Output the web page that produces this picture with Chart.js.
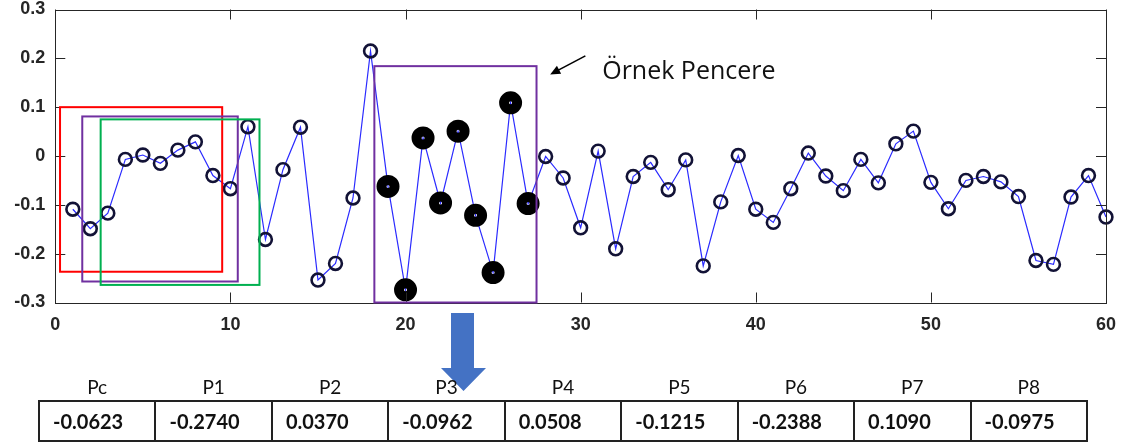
<!DOCTYPE html>
<html>
<head>
<meta charset="utf-8">
<script src="https://cdn.jsdelivr.net/npm/chart.js@4/dist/chart.umd.min.js"></script>
<style>
  html, body { margin: 0; padding: 0; background: #fff; }
  #wrap { position: relative; width: 1123px; height: 443px; overflow: hidden; }
  #chart { position: absolute; left: 0; top: 0; }
  #win { position: absolute; left: 38px; top: 372px; width: 1050px; border-collapse: collapse;
         table-layout: fixed; font-family: Lato, "Open Sans", sans-serif; color: #111; }
  #win th { font-weight: 400; font-size: 19px; height: 28px; padding: 0; text-align: center; border: none; }
  #win td { font-weight: 700; font-size: 20px; height: 38px; padding: 0 0 0 13px; border: 2px solid #222; text-align: left; }
</style>
</head>
<body>
<div id="wrap">
  <canvas id="chart" width="1123" height="443"></canvas>
  <table id="win"><thead><tr id="winHead"></tr></thead><tbody><tr id="winVals"></tr></tbody></table>
</div>
<script>
// Axis ticks
const xTickValues = [0, 10, 20, 30, 40, 50, 60];
const yTickValues = [-0.3, -0.2, -0.1, 0, 0.1, 0.2, 0.3];

// Signal samples 1..18 (before the sample window)
const leadValues = [-0.109, -0.149, -0.117, -0.007, 0.002, -0.015, 0.012, 0.029, -0.040,
                    -0.067, 0.060, -0.171, -0.028, 0.059, -0.254, -0.220, -0.086, 0.215];
// Sample window: centre pixel and its eight neighbours (samples 19..27)
const windowLabels = ['Pc', 'P1', 'P2', 'P3', 'P4', 'P5', 'P6', 'P7', 'P8'];
const windowValues = [-0.0623, -0.2740, 0.0370, -0.0962, 0.0508, -0.1215, -0.2388, 0.1090, -0.0975];
// Samples 28..60
const trailValues = [-0.001, -0.045, -0.147, 0.010, -0.190, -0.042, -0.013, -0.069, -0.008,
                     -0.225, -0.094, 0.001, -0.109, -0.136, -0.067, 0.006, -0.041, -0.071,
                     -0.007, -0.055, 0.025, 0.051, -0.054, -0.108, -0.050, -0.042, -0.053,
                     -0.083, -0.214, -0.222, -0.084, -0.040, -0.125];

const seriesValues = leadValues.concat(windowValues, trailValues);
const windowStart = leadValues.length;
const inWindow = i => i >= windowStart && i < windowStart + windowValues.length;
const points = seriesValues.map((v, i) => ({ x: i + 1, y: v }));

// Sliding-window frames, in data units
const windowFrames = [
  { x0: 0.27, x1: 9.53, y0: -0.237, y1: 0.100, color: '#ff0000' },
  { x0: 1.54, x1: 10.42, y0: -0.257, y1: 0.081, color: '#7030a0' },
  { x0: 2.59, x1: 11.66, y0: -0.264, y1: 0.075, color: '#00b050' },
  { x0: 18.22, x1: 27.48, y0: -0.300, y1: 0.184, color: '#7030a0' }
];
const calloutText = 'Örnek Pencere';

// Table under the chart
const head = document.getElementById('winHead');
const vals = document.getElementById('winVals');
windowLabels.forEach((lab, i) => {
  const th = document.createElement('th'); th.textContent = lab; head.appendChild(th);
  const td = document.createElement('td'); td.textContent = windowValues[i].toFixed(4); vals.appendChild(td);
});

const framePlugin = {
  id: 'frame',
  afterDatasetsDraw(chart) {
    const { ctx, chartArea: a, scales: { x, y } } = chart;
    ctx.save();
    // plot box and inward ticks
    ctx.strokeStyle = '#262626';
    ctx.lineWidth = 1;
    ctx.strokeRect(Math.round(a.left) + 0.5, Math.round(a.top) + 0.5,
                   Math.round(a.right - a.left), Math.round(a.bottom - a.top));
    ctx.beginPath();
    xTickValues.forEach(v => {
      const px = Math.round(x.getPixelForValue(v)) + 0.5;
      ctx.moveTo(px, a.top); ctx.lineTo(px, a.top + 10);
      ctx.moveTo(px, a.bottom); ctx.lineTo(px, a.bottom - 10);
    });
    yTickValues.forEach(v => {
      const py = Math.round(y.getPixelForValue(v)) + 0.5;
      ctx.moveTo(a.left, py); ctx.lineTo(a.left + 10, py);
      ctx.moveTo(a.right, py); ctx.lineTo(a.right - 10, py);
    });
    ctx.stroke();

    // window frames
    ctx.lineWidth = 2;
    windowFrames.forEach(f => {
      const l = x.getPixelForValue(f.x0), r = x.getPixelForValue(f.x1);
      const t = y.getPixelForValue(f.y1), b = y.getPixelForValue(f.y0);
      ctx.strokeStyle = f.color;
      ctx.strokeRect(l, t, r - l, b - t);
    });

    // callout arrow and text
    const tx = x.getPixelForValue(30.27), ty = y.getPixelForValue(0.205);
    const hx = x.getPixelForValue(28.26), hy = y.getPixelForValue(0.167);
    const ang = Math.atan2(hy - ty, hx - tx);
    ctx.strokeStyle = '#000'; ctx.fillStyle = '#000'; ctx.lineWidth = 1.6;
    ctx.beginPath(); ctx.moveTo(tx, ty);
    ctx.lineTo(hx - 6 * Math.cos(ang), hy - 6 * Math.sin(ang)); ctx.stroke();
    ctx.beginPath();
    ctx.moveTo(hx, hy);
    ctx.lineTo(hx - 10 * Math.cos(ang) + 4.5 * Math.sin(ang), hy - 10 * Math.sin(ang) - 4.5 * Math.cos(ang));
    ctx.lineTo(hx - 10 * Math.cos(ang) - 4.5 * Math.sin(ang), hy - 10 * Math.sin(ang) + 4.5 * Math.cos(ang));
    ctx.closePath(); ctx.fill();
    ctx.font = '400 25px "Open Sans", Lato, sans-serif';
    ctx.textBaseline = 'alphabetic';
    ctx.fillStyle = '#111';
    ctx.fillText(calloutText, x.getPixelForValue(31.23), y.getPixelForValue(0.157));

    // down arrow pointing to the table
    ctx.fillStyle = '#4472c4';
    ctx.beginPath();
    ctx.moveTo(451, 313); ctx.lineTo(474, 313); ctx.lineTo(474, 368); ctx.lineTo(486, 368);
    ctx.lineTo(463.5, 391); ctx.lineTo(441, 368); ctx.lineTo(451, 368);
    ctx.closePath(); ctx.fill();
    ctx.restore();
  }
};

new Chart(document.getElementById('chart'), {
  type: 'line',
  data: {
    datasets: [{
      data: points,
      borderColor: '#2a2aff',
      borderWidth: 1.2,
      fill: false,
      tension: 0,
      clip: false,
      pointBackgroundColor: 'rgba(0,0,0,0)',
      pointBorderColor: ctx => inWindow(ctx.dataIndex) ? '#000000' : '#121236',
      pointBorderWidth: ctx => inWindow(ctx.dataIndex) ? 10 : 2.6,
      pointRadius: ctx => inWindow(ctx.dataIndex) ? 6.5 : 6.4,
      pointHoverRadius: ctx => inWindow(ctx.dataIndex) ? 6.5 : 6.4
    }]
  },
  options: {
    responsive: false,
    animation: false,
    layout: { padding: { top: 9.5, right: 17, left: 0, bottom: 0 } },
    plugins: { legend: { display: false }, tooltip: { enabled: false } },
    scales: {
      x: {
        type: 'linear', min: 0, max: 60,
        afterBuildTicks: s => { s.ticks = xTickValues.map(v => ({ value: v })); },
        afterFit: s => { s.height = 140.5; s.paddingLeft = 0; s.paddingRight = 0; },
        grid: { display: false, drawTicks: false },
        border: { display: false },
        ticks: { padding: 12, color: '#262626', font: { family: 'Liberation Sans', size: 18, weight: 'bold' },
                 maxRotation: 0, callback: v => String(v) }
      },
      y: {
        type: 'linear', min: -0.3, max: 0.3,
        afterBuildTicks: s => { s.ticks = yTickValues.map(v => ({ value: v })); },
        afterFit: s => { s.width = 55.3; s.paddingTop = 0; s.paddingBottom = 0; },
        grid: { display: false, drawTicks: false },
        border: { display: false },
        ticks: { padding: 10, color: '#262626', font: { family: 'Liberation Sans', size: 18, weight: 'bold' },
                 callback: v => String(Math.round(v * 10) / 10) }
      }
    }
  },
  plugins: [framePlugin]
});
</script>
</body>
</html>
